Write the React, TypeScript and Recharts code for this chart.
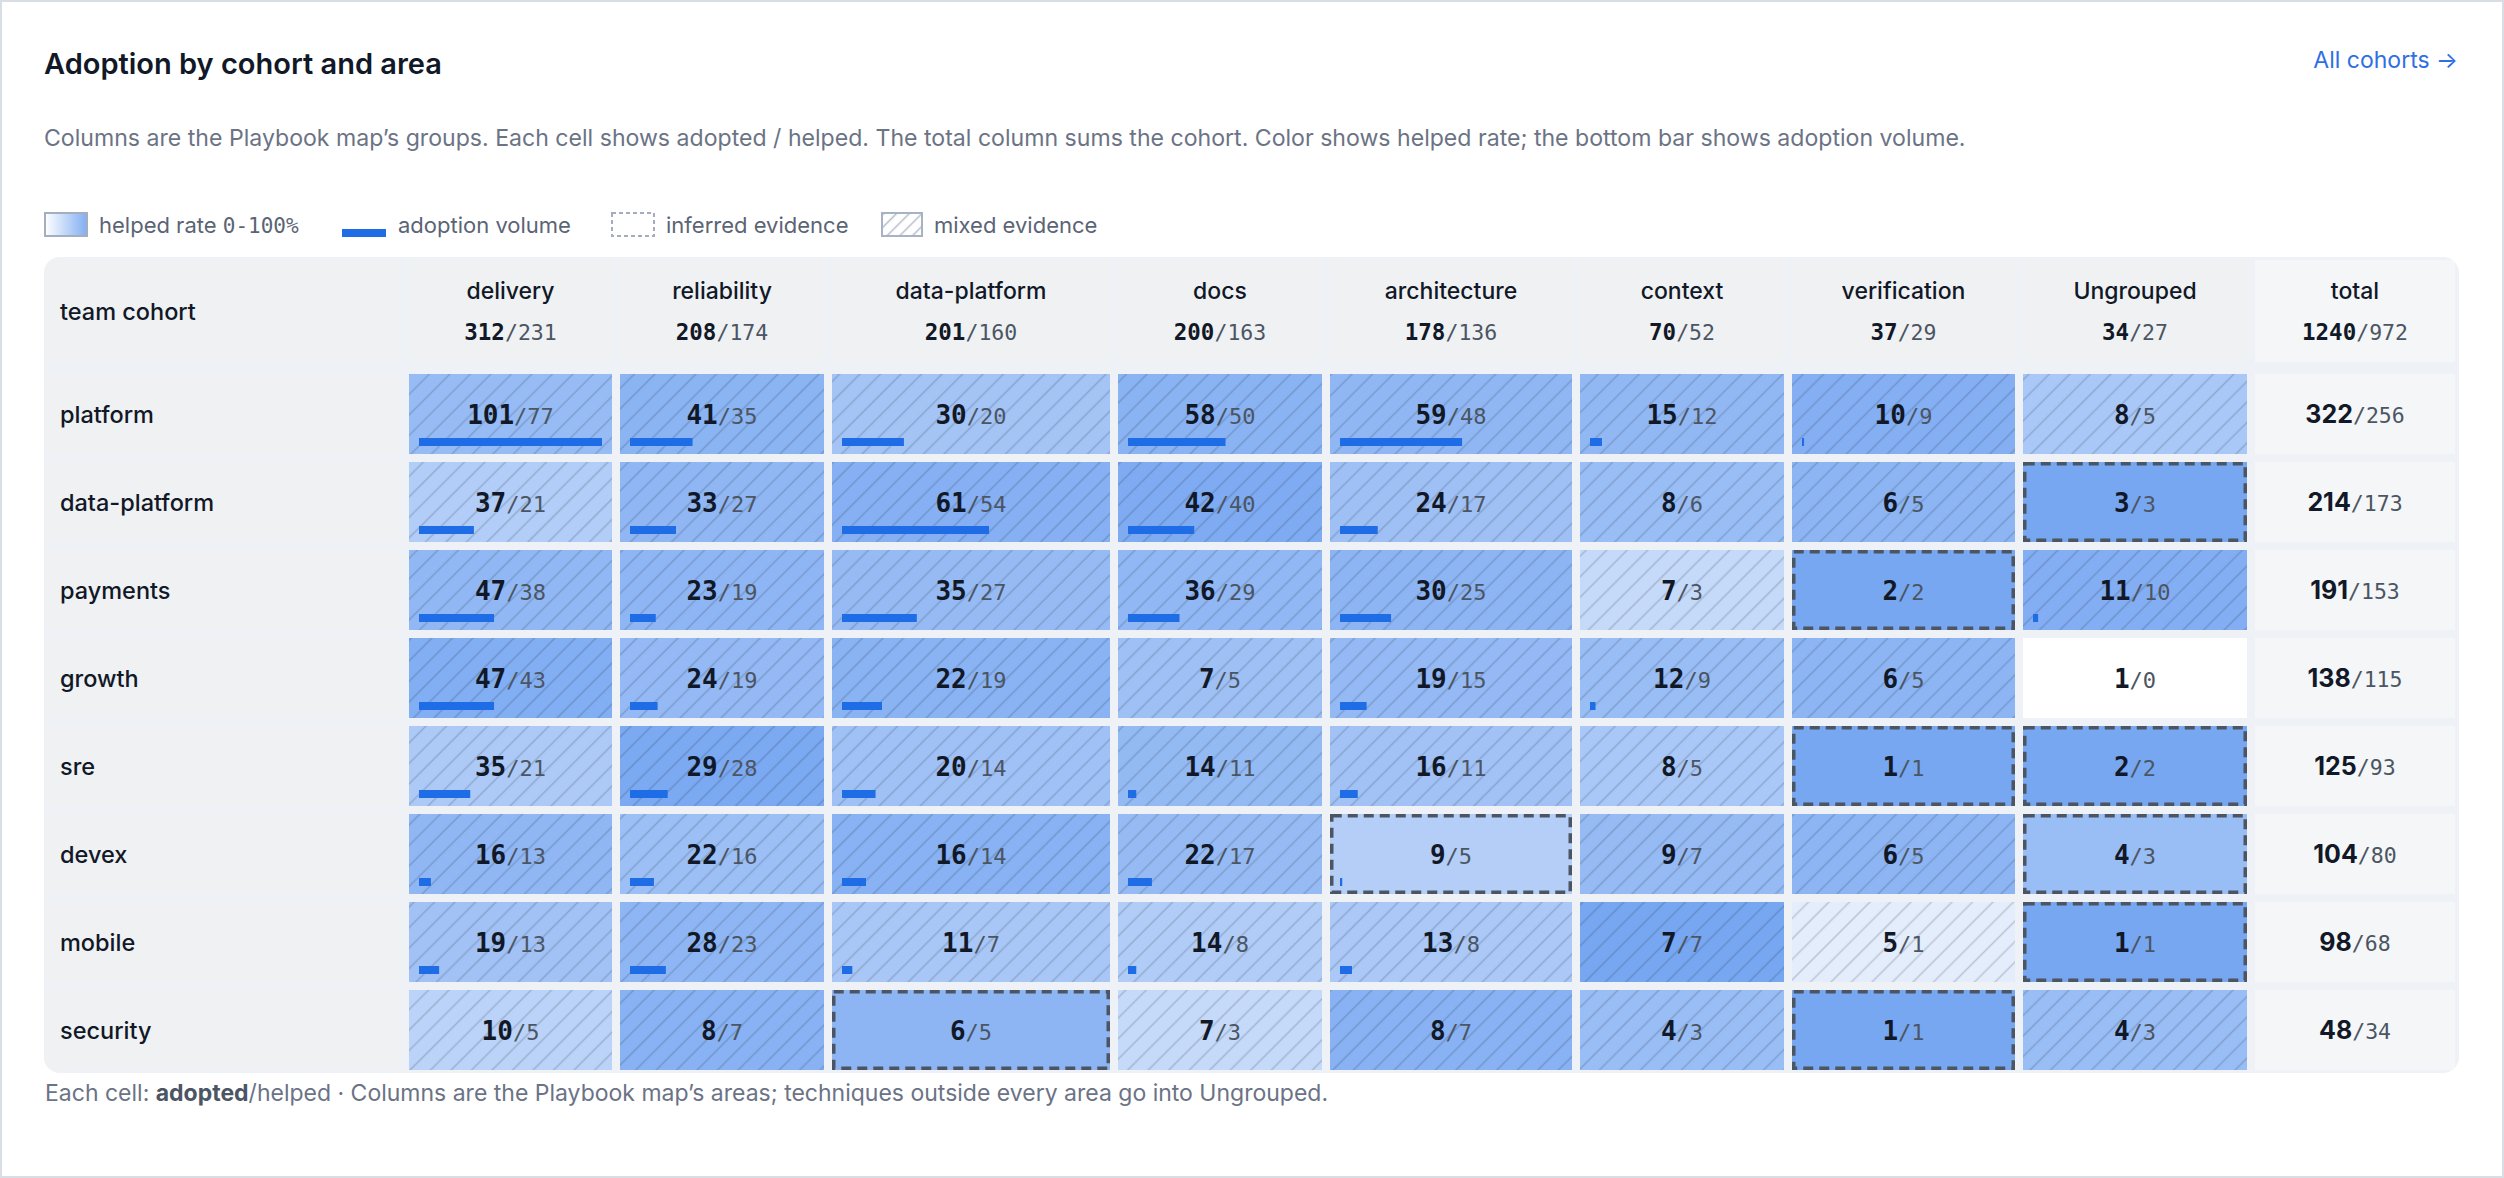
import React from "react";
import { BarChart, Bar, XAxis, YAxis } from "recharts";

const COHORTS = ["platform", "data-platform", "payments", "growth", "sre", "devex", "mobile", "security"];
const AREAS = ["delivery", "reliability", "data-platform", "docs", "architecture", "context", "verification", "Ungrouped"];

// adopted per cohort, one entry per area
const ADOPTED = [
  [101, 41, 30, 58, 59, 15, 10, 8],
  [37, 33, 61, 42, 24, 8, 6, 3],
  [47, 23, 35, 36, 30, 7, 2, 11],
  [47, 24, 22, 7, 19, 12, 6, 1],
  [35, 29, 20, 14, 16, 8, 1, 2],
  [16, 22, 16, 22, 9, 9, 6, 4],
  [19, 28, 11, 14, 13, 7, 5, 1],
  [10, 8, 6, 7, 8, 4, 1, 4],
];

const HELPED = [
  [77, 35, 20, 50, 48, 12, 9, 5],
  [21, 27, 54, 40, 17, 6, 5, 3],
  [38, 19, 27, 29, 25, 3, 2, 10],
  [43, 19, 19, 5, 15, 9, 5, 0],
  [21, 28, 14, 11, 11, 5, 1, 2],
  [13, 16, 14, 17, 5, 7, 5, 3],
  [13, 23, 7, 8, 8, 7, 1, 1],
  [5, 7, 5, 3, 7, 3, 1, 3],
];

// m = mixed evidence, i = inferred evidence, d = direct
const EVIDENCE = [
  ["m", "m", "m", "m", "m", "m", "m", "m"],
  ["m", "m", "m", "m", "m", "m", "m", "i"],
  ["m", "m", "m", "m", "m", "m", "i", "m"],
  ["m", "m", "m", "m", "m", "m", "m", "d"],
  ["m", "m", "m", "m", "m", "m", "i", "i"],
  ["m", "m", "m", "m", "i", "m", "m", "i"],
  ["m", "m", "m", "m", "m", "m", "m", "i"],
  ["m", "m", "i", "m", "m", "m", "i", "m"],
];

// adoption volume, % of the cell's bar track
const VOLUME = [
  [100, 34, 24, 53, 55, 6.5, 1, 0],
  [30, 25, 57, 36, 17, 0, 0, 0],
  [41, 14, 29, 28, 23, 0, 0, 2.5],
  [41, 15, 15.5, 0, 12, 3, 0, 0],
  [28, 20.5, 13, 4.5, 8, 0, 0, 0],
  [6.5, 13, 9.3, 13, 1, 0, 0, 0],
  [11, 19.5, 4, 4.5, 5.4, 0, 0, 0],
  [0, 0, 0, 0, 0, 0, 0, 0],
];

const COLUMNS = [...AREAS, "total"];
const TOTAL_COL = AREAS.length;

// layout: relative column widths (cell + gap)
const COLUMN_SLOTS = [211, 212, 286, 212, 250, 212, 231, 232, 204];
const SLOT_SUM = COLUMN_SLOTS.reduce((s, v) => s + v, 0);
const SLOT_STARTS = COLUMN_SLOTS.map((_, i) => COLUMN_SLOTS.slice(0, i).reduce((s, v) => s + v, 0));
const SLOT_CENTERS = COLUMN_SLOTS.map((w, i) => SLOT_STARTS[i] + w / 2);

const CHART_W = 2415;
const LABEL_W = 365;
const HEADER_H = 117;
const CHART_H = HEADER_H + COHORTS.length * 88;
const PX = (CHART_W - LABEL_W) / SLOT_SUM;
const GAP = 8;

const SANS = "Inter, 'Noto Sans', sans-serif";
const MONO = "'DejaVu Sans Mono', 'Liberation Mono', monospace";
const INK = "#111827";
const MUTED = "#4b5563";

const rowTotal = (r: number, src: number[][]) => src[r].reduce((s, v) => s + v, 0);
const colTotal = (c: number, src: number[][]) => src.reduce((s, row) => s + row[c], 0);

const rows = COHORTS.map((cohort, r) => {
  const row: Record<string, any> = { cohort, r };
  COLUMNS.forEach((_, c) => (row["c" + c] = COLUMN_SLOTS[c]));
  return row;
});

const fillFor = (rate: number) => `rgba(55,125,235,${(0.68 * rate).toFixed(3)})`;

function GridCell(props: any) {
  const { x, y, width, height, payload, col } = props;
  const r = payload.r;
  const h = height - GAP;
  if (col === TOTAL_COL) {
    const w = width - 4;
    return (
      <g>
        <rect x={x} y={y} width={w} height={h} fill="#f5f6f7" />
        <text x={x + w / 2} y={y + h / 2 + 9} textAnchor="middle">
          <tspan fontFamily={SANS} fontWeight={700} fontSize={25} fill={INK}>{rowTotal(r, ADOPTED)}</tspan>
          <tspan fontFamily={MONO} fontSize={21.5} fill={MUTED}>/{rowTotal(r, HELPED)}</tspan>
        </text>
      </g>
    );
  }
  const w = width - GAP;
  const a = ADOPTED[r][col];
  const hp = HELPED[r][col];
  const ev = EVIDENCE[r][col];
  const vol = VOLUME[r][col];
  const rate = a ? hp / a : 0;
  const track = w - 20;
  return (
    <g>
      <rect x={x} y={y} width={w} height={h} fill="#ffffff" />
      <rect x={x} y={y} width={w} height={h} fill={fillFor(rate)} />
      {ev === "m" && <rect x={x} y={y} width={w} height={h} fill="url(#hatch)" />}
      {ev === "i" && (
        <rect
          x={x + 1.75}
          y={y + 1.75}
          width={w - 3.5}
          height={h - 3.5}
          fill="none"
          stroke="#4b5563"
          strokeWidth={3.5}
          strokeDasharray="10 6"
        />
      )}
      {vol > 0 && (
        <rect x={x + 10} y={y + 64} width={Math.max(1.5, (vol / 100) * track)} height={8} fill="#1f6de6" />
      )}
      <text x={x + w / 2} y={y + h / 2 + 9.5} textAnchor="middle">
        <tspan fontFamily={MONO} fontWeight={700} fontSize={26} fill={INK}>{a}</tspan>
        <tspan fontFamily={MONO} fontSize={22} fill={MUTED}>/{hp}</tspan>
      </text>
    </g>
  );
}

function HeaderTick(props: any) {
  const { x, payload } = props;
  const c = SLOT_CENTERS.indexOf(payload.value);
  if (c < 0) return null;
  const left = x - (COLUMN_SLOTS[c] * PX) / 2;
  const w = COLUMN_SLOTS[c] * PX - (c === TOTAL_COL ? 4 : GAP);
  const isTotal = c === TOTAL_COL;
  const adopted = isTotal ? ADOPTED.flat().reduce((s, v) => s + v, 0) : colTotal(c, ADOPTED);
  const helped = isTotal ? HELPED.flat().reduce((s, v) => s + v, 0) : colTotal(c, HELPED);
  return (
    <g>
      <rect x={left} y={3} width={w} height={102} fill={isTotal ? "#f5f6f7" : "#f0f1f3"} />
      <text x={left + w / 2} y={41.5} textAnchor="middle" fontFamily={SANS} fontWeight={500} fontSize={23} fill={INK}>
        {COLUMNS[c]}
      </text>
      <text x={left + w / 2} y={83} textAnchor="middle">
        <tspan fontFamily={MONO} fontWeight={700} fontSize={22.5} fill={INK}>{adopted}</tspan>
        <tspan fontFamily={MONO} fontSize={21.5} fill={MUTED}>/{helped}</tspan>
      </text>
    </g>
  );
}

function RowTick(props: any) {
  const { y, payload } = props;
  return (
    <g>
      <rect x={0} y={y - 44} width={357} height={80} fill="#f0f1f3" />
      <text x={16} y={y - 4 + 8.5} fontFamily={SANS} fontWeight={500} fontSize={23.5} fill={INK}>
        {payload.value}
      </text>
    </g>
  );
}

function LegendText({ left, children }: { left: number; children: React.ReactNode }) {
  return (
    <div style={{ position: "absolute", left, top: 214, fontSize: 22, lineHeight: "22px", color: "#5b6475", whiteSpace: "nowrap" }}>
      {children}
    </div>
  );
}

export default function App() {
  return (
    <div
      style={{
        width: 2504,
        height: 1178,
        position: "relative",
        background: "#ffffff",
        boxShadow: "inset 0 0 0 2px #d9dee6",
        fontFamily: SANS,
        overflow: "hidden",
      }}
    >
      <style>{`body{margin:0}`}</style>
      <svg width={0} height={0} style={{ position: "absolute" }}>
        <defs>
          <pattern id="hatch" patternUnits="userSpaceOnUse" width={14.5} height={14.5} patternTransform="rotate(45)">
            <line x1={7.25} y1={0} x2={7.25} y2={14.5} stroke="rgba(30,41,59,0.21)" strokeWidth={1.5} />
          </pattern>
          <pattern id="hatchLegend" patternUnits="userSpaceOnUse" width={9} height={9} patternTransform="rotate(45)">
            <line x1={4.5} y1={0} x2={4.5} y2={9} stroke="#b3bccb" strokeWidth={1.5} />
          </pattern>
          <linearGradient id="rateGrad" x1="0" x2="1" y1="0" y2="0">
            <stop offset="0%" stopColor="#ffffff" />
            <stop offset="100%" stopColor="#82aef2" />
          </linearGradient>
        </defs>
      </svg>

      <div style={{ position: "absolute", left: 44, top: 48.5, fontSize: 29, lineHeight: "29px", fontWeight: 600, color: INK }}>
        Adoption by cohort and area
      </div>
      <div style={{ position: "absolute", right: 46, top: 48.5, fontSize: 23, lineHeight: "23px", color: "#2f6fe4" }}>
        All cohorts →
      </div>
      <div style={{ position: "absolute", left: 44, top: 126.5, fontSize: 23.1, lineHeight: "23px", color: "#6b7385", whiteSpace: "nowrap" }}>
        Columns are the Playbook map’s groups. Each cell shows adopted / helped. The total column sums the cohort. Color shows
        helped rate; the bottom bar shows adoption volume.
      </div>

      {/* legend */}
      <svg style={{ position: "absolute", left: 0, top: 200 }} width={1000} height={50}>
        <rect x={45} y={13} width={42} height={23} fill="url(#rateGrad)" stroke="#a3aec0" strokeWidth={2} />
        <rect x={342} y={29} width={44} height={8} fill="#1f6de6" />
        <rect x={612} y={13} width={42} height={23} fill="#ffffff" stroke="#a3adbd" strokeWidth={2} strokeDasharray="4 3" />
        <rect x={882} y={13} width={40} height={23} fill="url(#hatchLegend)" stroke="#a8b2c2" strokeWidth={2} />
      </svg>
      <LegendText left={99}>
        helped rate <span style={{ fontFamily: MONO, fontSize: 21 }}>0-100%</span>
      </LegendText>
      <LegendText left={398}>adoption volume</LegendText>
      <LegendText left={666}>inferred evidence</LegendText>
      <LegendText left={934}>mixed evidence</LegendText>

      {/* table */}
      <div
        style={{
          position: "absolute",
          left: 44,
          top: 257,
          width: CHART_W,
          height: 816,
          background: "#eef1f5",
          borderRadius: 16,
          overflow: "hidden",
        }}
      >
        <div
          style={{
            position: "absolute",
            left: 0,
            top: 3,
            width: 357,
            height: 102,
            background: "#f0f1f3",
            display: "flex",
            alignItems: "center",
            paddingLeft: 16,
            boxSizing: "border-box",
            fontSize: 23.5,
            fontWeight: 500,
            color: INK,
          }}
        >
          team cohort
        </div>
        <div style={{ position: "absolute", left: 0, top: 0 }}>
          <BarChart
            width={CHART_W}
            height={CHART_H}
            data={rows}
            layout="vertical"
            margin={{ top: 0, right: 0, bottom: 0, left: 0 }}
            barCategoryGap={0}
            barGap={0}
          >
            <XAxis
              type="number"
              orientation="top"
              domain={[0, SLOT_SUM]}
              allowDataOverflow
              ticks={SLOT_CENTERS}
              interval={0}
              height={HEADER_H}
              axisLine={false}
              tickLine={false}
              tick={HeaderTick}
            />
            <YAxis
              type="category"
              dataKey="cohort"
              width={LABEL_W}
              interval={0}
              axisLine={false}
              tickLine={false}
              tick={RowTick}
            />
            {COLUMNS.map((name, c) => (
              <Bar
                key={name + c}
                dataKey={"c" + c}
                stackId="grid"
                isAnimationActive={false}
                shape={(p: any) => <GridCell {...p} col={c} />}
              />
            ))}
          </BarChart>
        </div>
      </div>

      <div style={{ position: "absolute", left: 45, top: 1081.5, fontSize: 23, lineHeight: "23px", color: "#6b7385", whiteSpace: "nowrap" }}>
        Each cell: <b style={{ color: "#4b5563" }}>adopted</b>/helped · Columns are the Playbook map’s areas; techniques outside every
        area go into Ungrouped.
      </div>
    </div>
  );
}
